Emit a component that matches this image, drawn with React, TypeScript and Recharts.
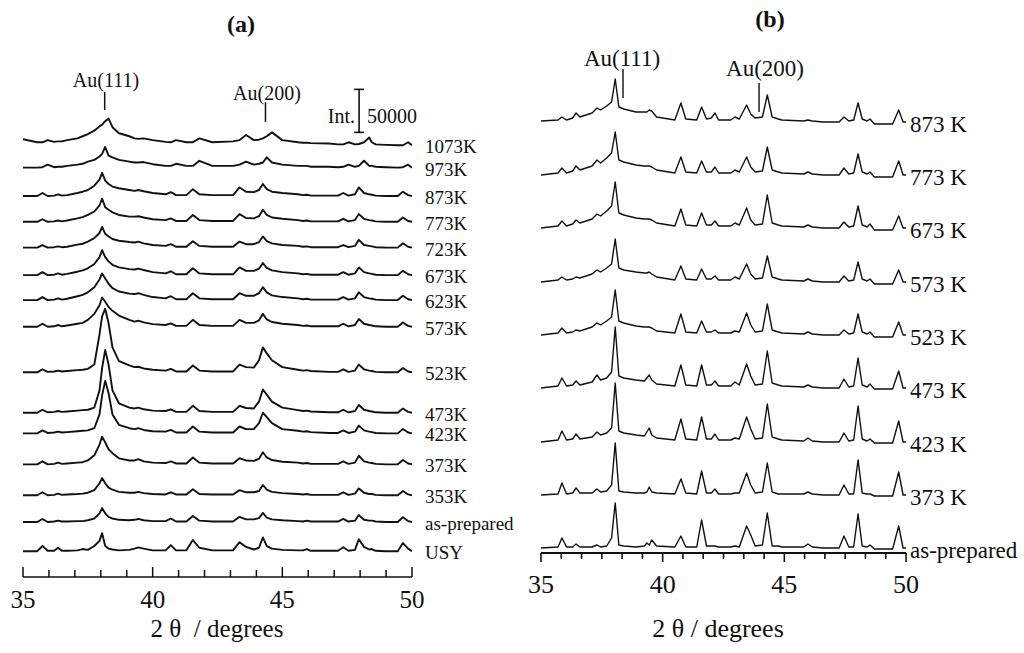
import { LineChart, Line, XAxis, YAxis, ReferenceLine } from 'recharts';

const SERIF = "'Liberation Serif', 'Times New Roman', Times, serif";
const INK = '#111';

// ---------- panel (a): intensities in units of 1000 counts (scale bar = 50000) ----------
const TWO_THETA_A = [
  35.0, 35.55, 35.75, 35.95, 36.2, 36.35, 36.5, 36.7, 37.1, 37.3, 37.5, 37.75, 37.95, 38.05, 38.17,
  38.3, 38.45, 38.7, 39.1, 39.3, 39.45, 39.65, 40.0, 40.5, 40.7, 40.9, 41.3, 41.55, 41.8, 42.3,
  43.1, 43.35, 43.6, 43.9, 44.1, 44.25, 44.4, 44.6, 45.0, 45.6, 45.8, 45.95, 46.1, 46.8, 47.15,
  47.35, 47.55, 47.8, 47.95, 48.15, 48.35, 48.45, 48.6, 49.0, 49.45, 49.65, 49.85, 50.0,
];
const LABELS_A = ['1073K', '973K', '873K', '773K', '723K', '673K', '623K', '573K', '523K', '473K', '423K', '373K', '353K', 'as-prepared', 'USY'];
const OFFSETS_A = [502, 476, 443, 413, 383, 351, 322, 291, 238, 191, 167, 131, 95, 64, 30];

const A_1073 = [7, 3.5, 3.5, 6, 4, 4.5, 4.5, 6, 8, 10.5, 13, 17, 22, 24, 28, 31, 21, 14, 10.5, 8, 7.5, 8, 6, 4, 3.5, 6, 3.5, 3.5, 8, 3.5, 4.5, 6, 12, 6, 6.5, 8, 10.5, 15, 6, 3.5, 3, 3, 2.5, 2, 1, 1, 3.5, 1, 1.5, 3.5, 9, 3.5, 1, 0.5, 0, 0, 3.5, 0];
const A_973 = [0, 0, 0.5, 3.5, 0.5, 1, 1, 2, 3.5, 4.5, 7, 9, 13, 16, 24, 14, 12, 9, 7, 6, 6, 6.5, 4, 2, 2, 4.5, 2, 2, 8, 2, 2, 3.5, 7, 3.5, 4.5, 6, 12, 6, 3.5, 2, 2, 2, 1, 1, 0.5, 1, 3.5, 1, 2, 8, 2, 2, 1, 0.5, 0, 0.5, 3.5, 0];
const A_873 = [0, 0, 3.5, 0, 0.5, 2, 0.5, 1, 3.5, 5, 7, 12, 19, 27, 18, 14, 11, 9, 7, 6, 7, 5.5, 3.5, 2, 4.5, 1, 1, 8, 2, 1, 1, 10, 5, 4.5, 7, 14, 8, 5, 3.5, 2, 1, 1.5, 0.5, 0.5, 0.5, 3.5, 0.5, 2, 10, 3.5, 2, 1.5, 0.5, 0, 0, 5, 1, 0];
const A_773 = [0, 0, 3, 0, 0.5, 1.5, 0.5, 1.5, 4, 5.5, 8, 12, 19, 27, 17, 14, 11, 8, 6, 6, 6.5, 5, 3, 2, 4, 1, 1, 8, 2, 1, 1, 9, 4.5, 4, 6.5, 14, 8, 5, 3.5, 2, 1, 1.5, 0.5, 0.5, 0.5, 3.5, 0.5, 2, 9, 3.5, 2, 1.5, 0.5, 0, 0, 5, 1, 0];
const A_723 = [0, 0, 3, 0, 0.5, 1.5, 0.5, 1, 3.5, 4.5, 7, 11, 17, 24, 16, 13, 10, 8, 6.5, 6, 7, 5, 3, 2, 4, 1, 1, 7.5, 2, 1, 1, 7, 4, 4, 6.5, 13, 7.5, 5, 3, 2, 1, 1.5, 0.5, 0.5, 0.5, 3, 0.5, 2, 9, 3, 2, 1.5, 0.5, 0, 0, 5, 1, 0];
const A_673 = [0, 0, 3.5, 0, 0.5, 2, 0.5, 1.5, 4, 5.5, 8, 13, 21, 29, 21, 16, 12, 9, 7, 6.5, 7.5, 6, 3.5, 2, 4.5, 1, 1, 8, 2, 1, 1, 9, 5, 5, 7.5, 14, 8.5, 5.5, 3.5, 2, 1, 1.5, 0.5, 0.5, 0.5, 3.5, 0.5, 2, 9, 3.5, 2, 1.5, 0.5, 0, 0, 5, 1, 0];
const A_623 = [0, 0, 3.5, 0, 0.5, 2, 0.5, 1.5, 4.5, 6, 9, 15, 24, 31, 25, 19, 14, 10, 7.5, 7, 8, 6, 3.5, 2, 4.5, 1, 1, 8, 2, 1, 1, 8, 5, 5, 8, 15, 9, 5.5, 3.5, 2, 1, 1.5, 0.5, 0.5, 0.5, 3.5, 0.5, 2, 9, 3.5, 2, 1.5, 0.5, 0, 0, 5, 1, 0];
const A_573 = [0, 0, 3.5, 0, 0.5, 2, 0.5, 1.5, 3.5, 4.5, 8, 15, 25, 34, 29, 23, 18.5, 13, 8, 6, 7, 5, 3, 2, 4, 1, 1, 8, 2, 1, 1, 8, 4.5, 4.5, 7.5, 15, 8.5, 5.5, 3.5, 2, 1, 1.5, 0.5, 0.5, 0.5, 3.5, 0.5, 2, 9, 3.5, 2, 1.5, 0.5, 0, 0, 5, 1, 0];
const A_523 = [0, 0, 3.5, 0.5, 1, 2, 1, 1.5, 2.5, 3, 4, 9, 44, 65, 74, 57, 29, 13, 8, 6, 6.5, 4.5, 3, 2, 4, 1, 1, 8, 2, 1, 1, 9, 6, 5.5, 14, 29, 22, 14, 6, 3, 2, 2.5, 1.5, 0.5, 0.5, 3.5, 0.5, 2, 9, 3.5, 2, 1.5, 0.5, 0, 0, 5, 1, 0];
const A_473 = [0, 0, 3.5, 0.5, 1, 2, 1, 1.5, 2.5, 3, 3.5, 6, 26, 52, 73, 56, 26, 11, 6, 5, 6, 4, 2.5, 2, 4, 1, 1, 8, 2, 1, 1, 8, 5.5, 5, 13, 27, 21, 13, 6, 3, 2, 2.5, 1.5, 0.5, 0.5, 3.5, 0.5, 2, 9, 3.5, 2, 1.5, 0.5, 0, 0, 5, 1, 0];
const A_423 = [0, 0, 3.5, 0.5, 1, 2, 1, 1.5, 2.5, 3, 3.5, 6, 22, 44, 61, 47, 22, 10, 6, 5, 6, 4, 2.5, 2, 4, 1, 1, 8, 2, 1, 1, 8, 5, 5, 12, 24, 19, 12, 5, 3, 2, 2.5, 1.5, 0.5, 0.5, 3.5, 0.5, 2, 9, 3.5, 2, 1.5, 0.5, 0, 0, 5, 1, 0];
const A_373 = [0, 0, 3.5, 0, 0.5, 2, 0.5, 1, 2, 2.5, 4.5, 10.5, 23, 32, 25.5, 17.5, 13, 7, 4.5, 4.5, 6, 3.5, 2, 1.5, 3.5, 1, 1, 8, 2, 1, 1, 7, 4.5, 4, 6.5, 14, 8, 5, 3, 2, 1, 1.5, 0.5, 0.5, 0.5, 3.5, 0.5, 2, 10, 3.5, 2, 1.5, 0.5, 0, 0, 5, 1, 0];
const A_353 = [0, 0, 3.5, 0, 0.5, 2, 0.5, 1, 1.5, 2, 3, 6, 14, 20, 14, 9, 6.5, 4, 3, 3, 4, 2.5, 1.5, 1, 3.5, 1, 1, 7, 1.5, 1, 1, 6, 3.5, 3.5, 5, 12, 6.5, 4, 2.5, 1.5, 1, 1.5, 0.5, 0.5, 0.5, 3.5, 0.5, 2, 8, 3, 1.5, 1.5, 0.5, 0, 0, 5, 1, 0];
const A_ASPREP = [0, 0, 3.5, 0, 0.5, 1.5, 0.5, 0.5, 1, 1, 2, 4, 10, 16, 10, 6, 4, 2.5, 2, 2.5, 3.5, 2, 1, 1, 4, 0.5, 0.5, 7, 1.5, 0.5, 0.5, 6, 3, 3, 4.5, 10.5, 5, 3, 2, 1, 0.5, 1.5, 0.5, 0.5, 0.5, 3.5, 0.5, 1.5, 8, 2.5, 1.5, 1.5, 0.5, 0, 0, 5.5, 1, 0];
const A_USY = [0, 0, 6, 0.5, 0.5, 4, 0.5, 0.5, 1, 2.5, 1.5, 6, 12, 21, 6, 3, 2, 1, 1.5, 3, 4.5, 3, 1, 1, 7, 1, 1, 13, 4, 1, 1, 10.5, 5, 2, 4, 16, 6, 3, 1.5, 1, 1, 2.5, 0.5, 0.5, 0.5, 4.5, 0.5, 1.5, 14, 5, 2, 2.5, 0.5, 0, 0, 9.5, 3, 0];
const INTENSITY_A = [A_1073, A_973, A_873, A_773, A_723, A_673, A_623, A_573, A_523, A_473, A_423, A_373, A_353, A_ASPREP, A_USY];
const TICKS_A = [35, 36, 37, 38, 39, 40, 41, 42, 43, 44, 45, 46, 47, 48, 49, 50];

// ---------- panel (b): arbitrary intensity units ----------
const TWO_THETA_B = [
  35.0, 35.7, 35.86, 36.05, 36.3, 36.44, 36.6, 37.1, 37.3, 37.45, 37.7, 37.9, 38.05, 38.2, 38.4,
  38.9, 39.25, 39.35, 39.45, 39.55, 39.75, 40.5, 40.75, 40.95, 41.4, 41.6, 41.8, 42.0, 42.15, 42.3,
  42.8, 42.97, 43.15, 43.45, 43.62, 43.8, 44.1, 44.3, 44.5, 44.75, 44.9, 45.8, 45.97, 46.15, 46.6,
  47.25, 47.45, 47.65, 47.85, 48.03, 48.2, 48.4, 48.52, 48.7, 49.45, 49.7, 49.88, 50.0,
];
const LABELS_B = ['873 K', '773 K', '673 K', '573 K', '523 K', '473 K', '423 K', '373 K', 'as-prepared'];
const OFFSETS_B = [431, 378, 325, 271, 218, 165, 111, 58, 5];

const B_873 = [1, 2, 5, 2, 4, 9, 5, 9, 14, 12, 16, 20, 43, 15, 13, 10, 10, 10, 12, 11, 5, 2, 19, 3, 2, 15, 3, 4, 9, 2, 2, 5, 3, 17, 8, 4, 5, 27, 5, 3, 2, 1, 2, 1, 0, 0, 5, 1, 2, 19, 3, 1, 3, -2, -2, 12, 0, 0];
const B_773 = [0, 2, 7, 2, 4, 9, 5, 9, 15, 12, 17, 22, 43, 15, 13, 10, 9, 9, 9, 8, 5, 2, 18, 3, 2, 14, 3, 3, 8, 2, 2, 5, 3, 18, 8, 3, 4, 28, 5, 3, 2, 1, 3, 1, 0, 0, 7, 1, 2, 21, 3, 1, 3, -2, -2, 14, 0, 0];
const B_673 = [0, 2, 7, 2, 4, 8, 5, 9, 14, 12, 17, 22, 46, 15, 13, 10, 9, 9, 9, 8, 5, 2, 19, 3, 2, 15, 3, 3, 7, 2, 2, 5, 3, 20, 8, 3, 4, 33, 5, 3, 2, 1, 3, 1, 0, 0, 6, 1, 2, 22, 3, 1, 4, -2, -2, 12, 0, 0];
const B_573 = [0, 2, 5, 2, 3, 5, 4, 8, 12, 10, 14, 18, 43, 14, 12, 10, 9, 9, 10, 8, 5, 2, 16, 3, 2, 13, 3, 3, 6, 2, 2, 5, 3, 18, 8, 3, 4, 26, 5, 3, 2, 1, 3, 1, 0, 0, 6, 1, 2, 20, 3, 1, 3, -2, -2, 12, 0, 0];
const B_523 = [0, 2, 7, 2, 3, 5, 4, 8, 12, 10, 14, 18, 45, 14, 12, 9, 8, 8, 8, 7, 4, 2, 21, 3, 2, 14, 3, 3, 5, 2, 2, 4, 3, 22, 10, 3, 4, 31, 5, 3, 2, 1, 3, 1, 0, 0, 5, 1, 2, 21, 3, 1, 3, -2, -2, 13, 0, 0];
const B_473 = [0, 2, 10, 2, 3, 7, 3, 6, 13, 8, 10, 16, 61, 12, 10, 8, 7, 10, 13, 8, 4, 2, 23, 3, 2, 23, 3, 3, 7, 2, 2, 6, 3, 24, 12, 3, 4, 37, 5, 3, 2, 1, 3, 1, 0, 0, 9, 1, 2, 30, 3, 1, 4, -1, -1, 17, 0, 0];
const B_423 = [0, 2, 11, 2, 3, 8, 3, 5, 10, 7, 9, 14, 59, 11, 9, 7, 6, 10, 14, 7, 4, 2, 23, 3, 2, 25, 3, 3, 8, 2, 2, 4, 3, 25, 13, 3, 4, 38, 5, 3, 2, 1, 4, 1, 0, 0, 9, 1, 2, 36, 3, 1, 3, -1, -1, 21, 0, 0];
const B_373 = [0, 1, 12, 1, 2, 7, 2, 2, 6, 3, 4, 10, 52, 4, 3, 2, 2, 3, 8, 3, 2, 1, 16, 2, 1, 24, 2, 2, 6, 1, 1, 2, 2, 22, 10, 2, 3, 32, 3, 1, 1, 1, 3, 1, 0, 0, 10, 1, 1, 35, 2, 1, 1, -1, -1, 23, 0, 0];
const B_ASPREP = [0, 1, 10, 1, 1, 4, 1, 1, 3, 1, 2, 10, 45, 3, 2, 1, 2, 5, 3, 8, 2, 1, 12, 1, 1, 28, 2, 2, 2, 1, 1, 2, 1, 22, 13, 2, 3, 35, 2, 2, 1, 1, 4, 1, 0, 0, 12, 1, 1, 34, 2, 1, 3, -1, -1, 22, 0, 0];
const INTENSITY_B = [B_873, B_773, B_673, B_573, B_523, B_473, B_423, B_373, B_ASPREP];
const TICKS_B = [35, 35.833, 36.667, 37.5, 38.333, 39.167, 40, 40.833, 41.667, 42.5, 43.333, 44.167, 45, 45.833, 46.667, 47.5, 48.333, 49.167, 50];

const buildSeries = (labels: string[], offsets: number[], grid: number[], values: number[][]) =>
  labels.map((label, i) => ({
    label,
    data: grid.map((x, j) => ({ x, y: offsets[i] + values[i][j] })),
  }));

const seriesA = buildSeries(LABELS_A, OFFSETS_A, TWO_THETA_A, INTENSITY_A);
const seriesB = buildSeries(LABELS_B, OFFSETS_B, TWO_THETA_B, INTENSITY_B);

const isMajor = (v: number) => Math.abs(v - Math.round(v / 5) * 5) < 0.01;

// tickSize 1 + tickMargin 1 => tick y sits 2px below the axis line
const AxisTick = ({ x, y, payload, major, minor, down, labelDy, fontSize, width }: any) => {
  const v = payload.value;
  const y0 = y - 2;
  const len = isMajor(v) ? major : minor;
  return (
    <g>
      <line x1={x} x2={x} y1={y0} y2={down ? y0 + len : y0 - len} stroke={INK} strokeWidth={width} />
      {isMajor(v) && (
        <text x={x} y={y0 + labelDy} textAnchor="middle" fontSize={fontSize} fontFamily={SERIF} fill={INK}>
          {v}
        </text>
      )}
    </g>
  );
};

const endLabel = (text: string, last: number, dx: number, dy: number, fontSize: number) => (p: any) => {
  if (p.index !== last) return <g key={`n${p.index}`} />;
  return (
    <text key="end" x={p.x + dx} y={p.y + dy} fontSize={fontSize} fontFamily={SERIF} fill={INK}>
      {text}
    </text>
  );
};

function PanelA() {
  const last = TWO_THETA_A.length - 1;
  return (
    <LineChart width={520} height={653} margin={{ top: 61, right: 108, bottom: 56, left: 23 }}>
      <XAxis
        type="number"
        dataKey="x"
        domain={[35, 50]}
        ticks={TICKS_A}
        interval={0}
        height={20}
        allowDataOverflow
        axisLine={{ stroke: INK, strokeWidth: 1.6 }}
        tickLine={false}
        tickSize={1}
        tickMargin={1}
        tick={(p: any) => <AxisTick {...p} major={10} minor={7} down={false} labelDy={31} fontSize={25} width={1.5} />}
      />
      <YAxis type="number" domain={[0, 600]} hide />
      {seriesA.map((s) => (
        <Line
          key={s.label}
          data={s.data}
          dataKey="y"
          type="linear"
          stroke={INK}
          strokeWidth={1.9}
          strokeLinejoin="round"
          dot={false}
          activeDot={false}
          isAnimationActive={false}
          label={endLabel(s.label, last, 13, 8, 19)}
        />
      ))}
      <ReferenceLine segment={[{ x: 38.15, y: 543 }, { x: 38.15, y: 564 }]} stroke={INK} strokeWidth={1.5} ifOverflow="visible" />
      <ReferenceLine segment={[{ x: 44.35, y: 529 }, { x: 44.35, y: 552 }]} stroke={INK} strokeWidth={1.5} ifOverflow="visible" />
      <ReferenceLine segment={[{ x: 47.96, y: 517 }, { x: 47.96, y: 567 }]} stroke={INK} strokeWidth={1.6} ifOverflow="visible" />
      <ReferenceLine segment={[{ x: 47.77, y: 567 }, { x: 48.15, y: 567 }]} stroke={INK} strokeWidth={1.6} ifOverflow="visible" />
      <ReferenceLine segment={[{ x: 47.77, y: 517 }, { x: 48.15, y: 517 }]} stroke={INK} strokeWidth={1.6} ifOverflow="visible" />
    </LineChart>
  );
}

function PanelB() {
  const last = TWO_THETA_B.length - 1;
  return (
    <LineChart width={504} height={653} margin={{ top: 40, right: 118, bottom: 80, left: 21 }}>
      <XAxis
        type="number"
        dataKey="x"
        domain={[35, 50]}
        ticks={TICKS_B}
        interval={0}
        height={20}
        allowDataOverflow
        axisLine={{ stroke: INK, strokeWidth: 2.2 }}
        tickLine={false}
        tickSize={1}
        tickMargin={1}
        tick={(p: any) => <AxisTick {...p} major={9} minor={6} down labelDy={40} fontSize={26} width={1.6} />}
      />
      <YAxis type="number" domain={[0, 513]} hide />
      {seriesB.map((s) => (
        <Line
          key={s.label}
          data={s.data}
          dataKey="y"
          type="linear"
          stroke={INK}
          strokeWidth={1.4}
          strokeLinejoin="round"
          dot={false}
          activeDot={false}
          isAnimationActive={false}
          label={endLabel(s.label, last, 4, 10, 23)}
        />
      ))}
      <ReferenceLine segment={[{ x: 38.37, y: 455 }, { x: 38.37, y: 484 }]} stroke={INK} strokeWidth={1.4} ifOverflow="visible" />
      <ReferenceLine segment={[{ x: 43.96, y: 441 }, { x: 43.96, y: 470 }]} stroke={INK} strokeWidth={1.4} ifOverflow="visible" />
    </LineChart>
  );
}

export default function App() {
  return (
    <div style={{ position: 'absolute', left: 0, top: 0, width: 1024, height: 653, background: '#fff', overflow: 'hidden' }}>
      <div style={{ position: 'absolute', left: 0, top: 0 }}>
        <PanelA />
      </div>
      <div style={{ position: 'absolute', left: 520, top: 0 }}>
        <PanelB />
      </div>
      <svg width={1024} height={653} style={{ position: 'absolute', left: 0, top: 0, pointerEvents: 'none' }} fontFamily={SERIF} fill={INK}>
        <text x={241} y={32} textAnchor="middle" fontSize={24} fontWeight="bold">(a)</text>
        <text x={770} y={27} textAnchor="middle" fontSize={24} fontWeight="bold">(b)</text>
        <text x={106} y={87} textAnchor="middle" fontSize={20}>Au(111)</text>
        <text x={267} y={100} textAnchor="middle" fontSize={20}>Au(200)</text>
        <text x={355} y={123} textAnchor="end" fontSize={20}>Int.</text>
        <text x={367} y={123} fontSize={20}>50000</text>
        <text x={622} y={66} textAnchor="middle" fontSize={23}>Au(111)</text>
        <text x={765} y={76} textAnchor="middle" fontSize={23}>Au(200)</text>
        <text x={217} y={637} textAnchor="middle" fontSize={25} style={{ whiteSpace: 'pre' }}>{'2 θ  / degrees'}</text>
        <text x={718} y={637} textAnchor="middle" fontSize={26}>2 θ / degrees</text>
      </svg>
    </div>
  );
}
